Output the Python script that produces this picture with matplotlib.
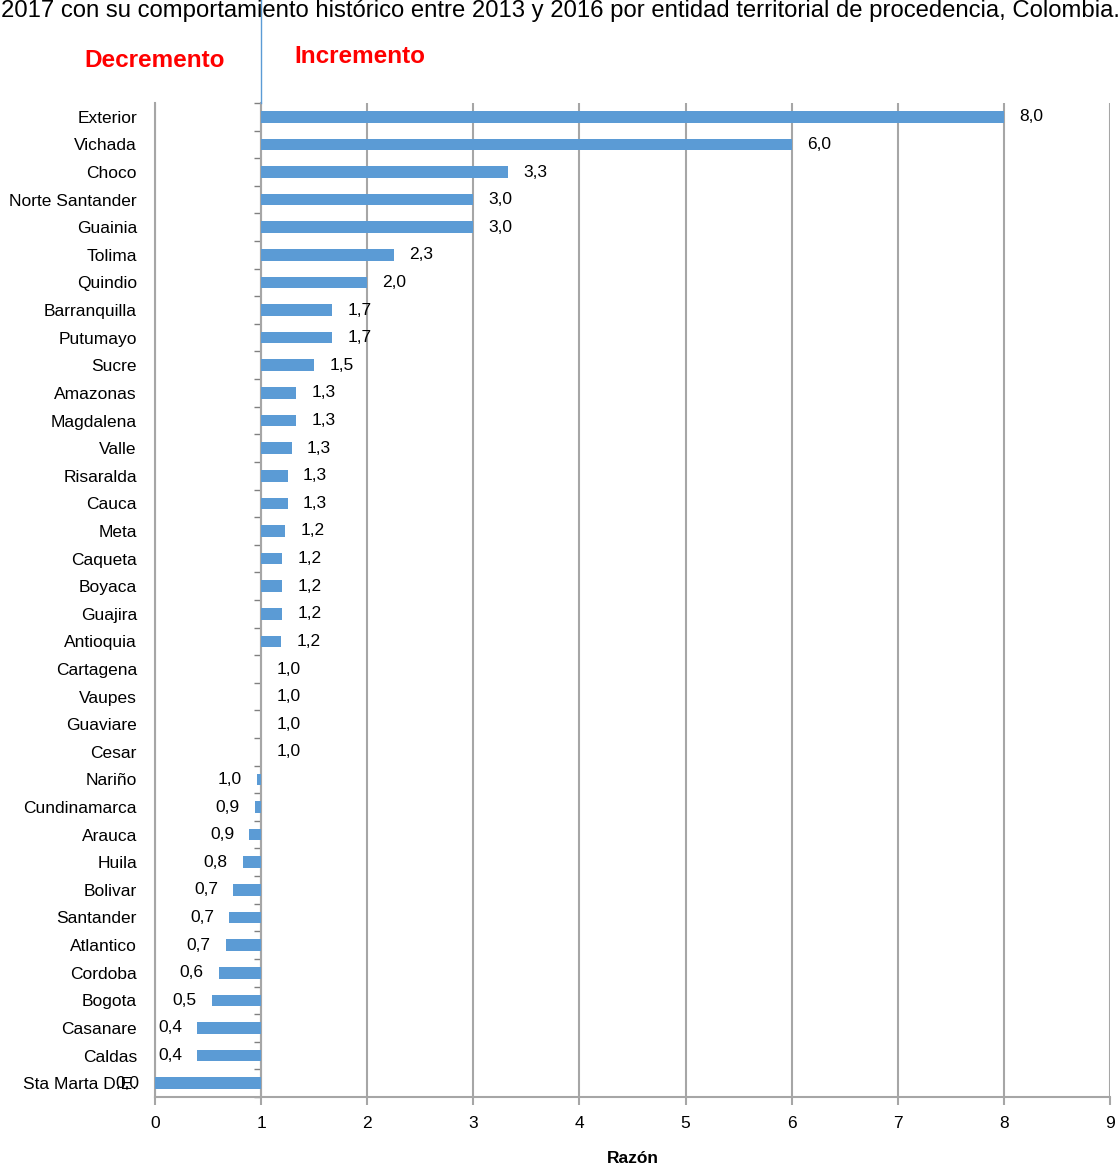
import numpy as np
import matplotlib.pyplot as plt
from decimal import Decimal, ROUND_HALF_UP

plt.rcParams['font.family'] = ['Liberation Sans', 'DejaVu Sans']

entidades = ['Exterior', 'Vichada', 'Choco', 'Norte Santander', 'Guainia', 'Tolima',
             'Quindio', 'Barranquilla', 'Putumayo', 'Sucre', 'Amazonas', 'Magdalena',
             'Valle', 'Risaralda', 'Cauca', 'Meta', 'Caqueta', 'Boyaca', 'Guajira',
             'Antioquia', 'Cartagena', 'Vaupes', 'Guaviare', 'Cesar', 'Nariño',
             'Cundinamarca', 'Arauca', 'Huila', 'Bolivar', 'Santander', 'Atlantico',
             'Cordoba', 'Bogota', 'Casanare', 'Caldas', 'Sta Marta D.E.']
razon = [8.0, 6.0, 3.33, 3.0, 3.0, 2.25,
         2.0, 1.67, 1.67, 1.5, 1.33, 1.33,
         1.29, 1.25, 1.25, 1.23, 1.2, 1.2, 1.2,
         1.19, 1.0, 1.0, 1.0, 1.0, 0.96,
         0.94, 0.89, 0.83, 0.74, 0.70, 0.67,
         0.6, 0.54, 0.4, 0.4, 0.0]

base = 1.0
grey = '#a6a6a6'
blue = '#5b9bd5'


def fmt(v):
    d = Decimal(str(v)).quantize(Decimal('0.1'), rounding=ROUND_HALF_UP)
    return str(d).replace('.', ',')


fig = plt.figure(figsize=(11.18, 11.65), dpi=100)
ax = fig.add_axes([0.1386, 0.0584, 0.8542, 0.8532])

y = np.arange(len(entidades))
vals = np.array(razon)
ax.barh(y, vals - base, left=base, height=0.42, color=blue, zorder=3)

for yi, v in zip(y, vals):
    if v >= base:
        ax.annotate(fmt(v), (v, yi), xytext=(11, 0), textcoords='offset points',
                    ha='left', va='center', fontsize=12.5)
    else:
        ax.annotate(fmt(v), (v, yi), xytext=(-11, 0), textcoords='offset points',
                    ha='right', va='center', fontsize=12.5)

ax.set_xlim(0, 9)
ax.set_ylim(len(entidades) - 0.5, -0.5)
ax.set_xticks(range(10))
ax.set_yticks(y)
ax.set_yticklabels(entidades, fontsize=12.5)
ax.tick_params(axis='y', length=0, pad=13)
ax.tick_params(axis='x', colors=grey, labelcolor='black', labelsize=12.5,
               length=6, width=1.5, pad=8)

ax.grid(axis='x', color=grey, linewidth=1.5, zorder=0)
for s in ['top', 'right']:
    ax.spines[s].set_visible(False)
for s in ['left', 'bottom']:
    ax.spines[s].set_color(grey)
    ax.spines[s].set_linewidth(1.5)

# ticks of the category axis drawn at x = 1
sec = ax.secondary_yaxis(1 / 9)
sec.set_yticks(np.arange(-0.5, len(entidades), 1.0))
sec.set_yticklabels([])
sec.tick_params(length=5, width=1, color='#808080')
sec.spines['left'].set_color(grey)
sec.spines['left'].set_linewidth(1.5)

ax.set_xlabel('Razón', fontsize=12.5, fontweight='bold', labelpad=14)

# separator line and annotations above the plot
tr = ax.get_xaxis_transform()
ax.plot([base, base], [1.0, 1.105], transform=tr, color=blue,
        linewidth=1, clip_on=False)
ax.text(0.66, 1.043, 'Decremento', transform=tr, ha='right', va='center',
        color='red', fontsize=17.5, fontweight='bold')
ax.text(1.31, 1.047, 'Incremento', transform=tr, ha='left', va='center',
        color='red', fontsize=17.5, fontweight='bold')

fig.text(0.001, 1 - 17 / 1165, '2017 con su comportamiento histórico entre 2013 y 2016 '
         'por entidad territorial de procedencia, Colombia.',
         ha='left', va='baseline', fontsize=17.2)

fig.savefig('out.png', dpi=100)
